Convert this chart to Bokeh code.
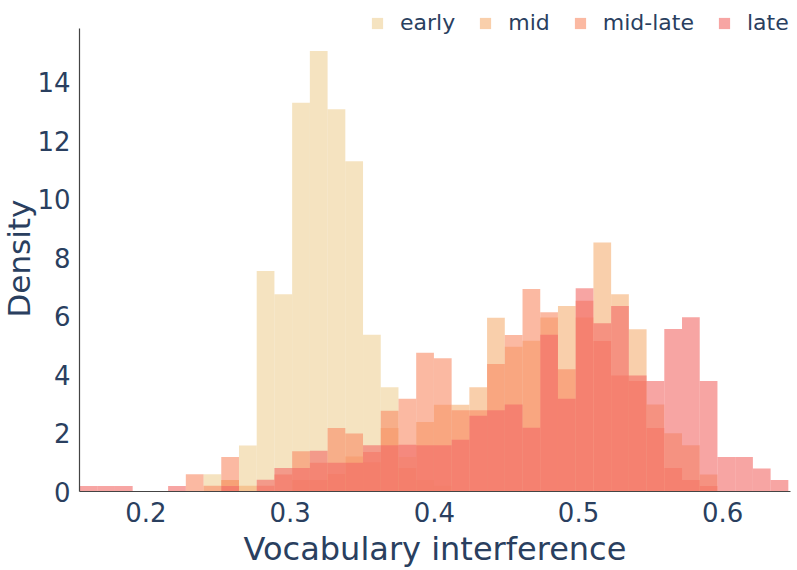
import numpy as np
from bokeh.plotting import figure
from bokeh.models import (ColumnDataSource, Range1d, FixedTicker, Legend, LegendItem, Title)
from bokeh.embed import file_html
from bokeh.resources import INLINE

# ---- data (densities) ----
bin_start = 0.1539
bin_width = 0.01229
n_bins = 40

series_names = ["early", "mid", "mid-late", "late"]

early = [0, 0, 0, 0, 0, 0, 0, 0.59, 0.39, 1.57,
         7.54, 6.75, 13.3, 15.07, 13.08, 11.3, 5.36, 3.57, 1.18, 0.39,
         0.2, 0, 0, 0, 0, 0, 0, 0, 0, 0,
         0, 0, 0, 0, 0, 0, 0, 0, 0, 0]

mid = [0, 0, 0, 0, 0, 0, 0, 0, 0.39, 0.2,
       0, 0, 0.39, 0.39, 0.6, 1.2, 1.0, 2.17, 0.8, 2.38,
       2.97, 2.97, 3.57, 5.94, 4.95, 5.16, 5.95, 6.35, 5.95, 8.52,
       6.75, 5.55, 2.98, 1.99, 1.58, 0.58, 0, 0, 0, 0]

mid_late = [0, 0, 0, 0, 0, 0, 0.59, 0.2, 1.18, 0,
            0.2, 0.58, 1.38, 0.98, 2.17, 1.98, 1.35, 2.76, 3.17, 4.75,
            4.56, 2.78, 2.78, 4.36, 5.35, 6.93, 6.13, 4.18, 6.53, 5.15,
            3.97, 3.78, 2.17, 0.8, 0.39, 0.19, 0, 0, 0, 0]

late = [0.19, 0.19, 0.19, 0, 0, 0.19, 0, 0, 0.19, 0,
        0.4, 0.8, 0.8, 1.39, 0.98, 0.98, 1.58, 1.58, 1.6, 1.58,
        1.58, 1.77, 2.59, 2.78, 2.98, 2.18, 5.36, 3.17, 6.95, 5.76,
        6.35, 3.97, 3.78, 5.56, 5.96, 3.78, 1.18, 1.18, 0.79, 0.39]

x_ticks = [0.2, 0.3, 0.4, 0.5, 0.6]
y_ticks = [0, 2, 4, 6, 8, 10, 12, 14]

colors = ["#eed096", "#f5af73", "#f88a64", "#f26966"]
text_color = "#2a3f5f"
font = "DejaVu Sans"

# layout (screen pixels)
W, H = 797, 570
left_b, bottom_b, right_b = 79, 78, 7
px_per_x = 1441.9
px_per_y = 29.29
y_top_axis = 15.84

edges = bin_start + bin_width * np.arange(n_bins + 1)
x_end = bin_start + (W - left_b - right_b) / px_per_x
y_end = (H - bottom_b) / px_per_y

p = figure(width=W, height=H,
           x_range=Range1d(bin_start, x_end),
           y_range=Range1d(0, y_end),
           min_border_left=left_b, min_border_right=right_b,
           min_border_top=0, min_border_bottom=bottom_b,
           output_backend="svg", toolbar_location=None)

renderers = []
for name, vals, col in zip(series_names, [early, mid, mid_late, late], colors):
    src = ColumnDataSource(dict(left=edges[:-1], right=edges[1:],
                                top=np.array(vals, dtype=float),
                                bottom=np.zeros(n_bins)))
    r = p.quad(left="left", right="right", top="top", bottom="bottom",
               source=src, fill_color=col, fill_alpha=0.6, line_color=None)
    renderers.append(r)

p.xgrid.grid_line_color = None
p.ygrid.grid_line_color = None
p.outline_line_color = None

for ax in (p.xaxis[0], p.yaxis[0]):
    ax.major_tick_line_color = None
    ax.minor_tick_line_color = None
    ax.axis_line_color = "#444444"
    ax.axis_line_width = 1.2
    ax.major_label_text_font_size = "26px"
    ax.major_label_text_font = font
    ax.major_label_text_color = text_color
    ax.axis_label_text_font_size = "32px"
    ax.axis_label_text_font = font
    ax.axis_label_text_font_style = "normal"
    ax.axis_label_text_color = text_color

p.xaxis[0].ticker = FixedTicker(ticks=x_ticks)
p.yaxis[0].ticker = FixedTicker(ticks=y_ticks)
p.xaxis[0].major_label_standoff = 4
p.yaxis[0].major_label_standoff = 3
p.xaxis[0].axis_label = "Vocabulary interference"
p.xaxis[0].axis_label_standoff = 5
p.yaxis[0].bounds = (0, y_top_axis)

p.add_layout(Title(text="Density", align="left", offset=174, standoff=-4,
                   text_font_size="31px", text_font=font, text_font_style="normal",
                   text_color=text_color), "left")

legend = Legend(items=[LegendItem(label=n, renderers=[r]) for n, r in zip(series_names, renderers)],
                orientation="horizontal", location=(291, 456),
                glyph_width=14, glyph_height=14, label_standoff=16, spacing=23,
                padding=0, margin=0, border_line_alpha=0, background_fill_alpha=0,
                label_text_font_size="22px", label_text_color=text_color,
                label_text_font=font)
p.add_layout(legend)

open("out.html", "w").write(file_html(p, INLINE))
